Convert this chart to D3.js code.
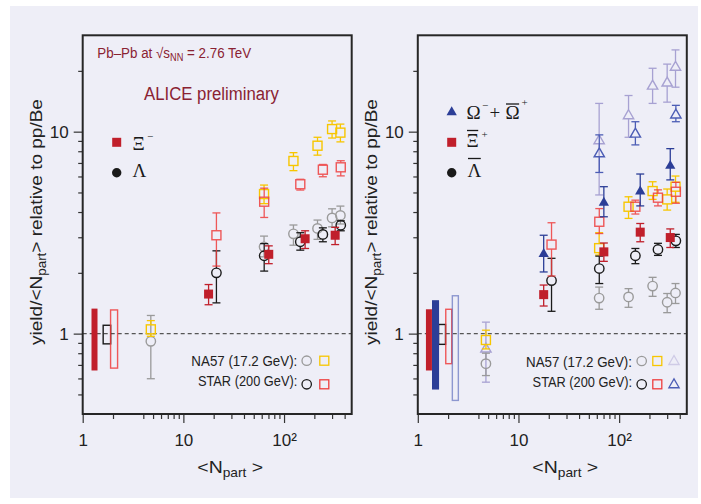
<!DOCTYPE html>
<html><head><meta charset="utf-8">
<script src="https://cdn.jsdelivr.net/npm/d3@7"></script>
<style>
body{margin:0;background:#fff}
text{font-family:"Liberation Sans",Arial,sans-serif}
text.serif{font-family:"Liberation Serif","Times New Roman",serif}
</style>
</head><body>
<svg id="c" width="701" height="504"></svg>
<script>
// ---------------- DATA ----------------
const xTickValues = [1, 10, 100];
const xTickLabels = ["1", "10", "10\u00b2"];
const xMinorTicks = [2, 4, 5, 6, 7, 8, 9, 20, 30, 40, 50, 60, 70, 80, 90, 200, 300, 400];
const yTickValues = [1, 10];
const yTickLabels = ["1", "10"];
const yMinorTicks = [0.5, 0.6, 0.7, 0.8, 0.9, 2, 3, 4, 5, 6, 7, 8, 9, 20];

const aliceNpart = [17.8, 70.5, 162, 322];
const starNpart = [21.3, 63.5, 145, 243, 366];
const starOmegaNpart = [63.5, 145, 366];
const na57Npart = [4.75, 63.3, 124, 215, 300, 363];

// left panel
const aliceXiMinus   = [1.57, 2.47, 2.95, 3.07];
const aliceXiMinusHi = [1.75, 2.72, 3.23, 3.36];
const aliceXiMinusLo = [1.39, 2.22, 2.64, 2.76];
const starXi   = [3.07, 4.50, 5.49, 6.48, 6.66];
const starXiHi = [3.96, 5.25, 5.81, 6.88, 7.18];
const starXiLo = [2.16, 3.76, 5.14, 5.98, 6.04];
const starLambda   = [2.00, 2.43, 2.85, 3.10, 3.44];
const starLambdaHi = [2.57, 2.79, 3.16, 3.34, 3.62];
const starLambdaLo = [1.42, 2.04, 2.59, 2.85, 3.23];
const na57Xi   = [1.05, 4.91, 7.16, 8.52, 10.3, 9.89];
const na57XiHi = [1.16, 5.44, 7.87, 9.38, 11.3, 10.9];
const na57XiLo = [0.97, 4.40, 6.41, 7.65, 9.30, 8.90];
const na57Lambda   = [0.916, 2.69, 3.12, 3.32, 3.74, 3.85];
const na57LambdaHi = [1.23, 3.04, 3.45, 3.65, 4.15, 4.28];
const na57LambdaLo = [0.598, 2.40, 2.74, 2.93, 3.38, 3.49];

// right panel
const aliceOmega   = [2.52, 4.52, 5.14, 6.89];
const aliceOmegaHi = [3.07, 5.34, 6.17, 8.24];
const aliceOmegaLo = [2.02, 3.79, 4.29, 5.77];
const aliceXiBar   = [1.56, 2.54, 3.18, 2.99];
const aliceXiBarHi = [1.74, 2.81, 3.51, 3.30];
const aliceXiBarLo = [1.37, 2.28, 2.85, 2.67];
const starLambdaBar   = [1.83, 2.10, 2.43, 2.61, 2.88];
const starLambdaBarHi = [2.36, 2.42, 2.64, 2.80, 3.10];
const starLambdaBarLo = [1.29, 1.77, 2.22, 2.44, 2.67];
const starXiBar   = [2.76, 3.58, 4.25, 4.71, 5.04];
const starXiBarHi = [3.54, 4.16, 4.58, 5.15, 5.61];
const starXiBarLo = [1.93, 3.13, 3.91, 4.29, 4.42];
const starOmega   = [7.9, 9.89, 12.3];
const starOmegaHi = [9.64, 11.2, 13.5];
const starOmegaLo = [6.28, 8.6, 11.2];
const na57LambdaBar   = [0.71, 1.50, 1.52, 1.72, 1.43, 1.59];
const na57LambdaBarHi = [0.80, 1.70, 1.67, 1.90, 1.58, 1.77];
const na57LambdaBarLo = [0.62, 1.32, 1.35, 1.53, 1.27, 1.41];
const na57XiBar   = [0.93, 2.65, 4.25, 5.08, 4.62, 5.34];
const na57XiBarHi = [1.04, 3.16, 4.76, 5.65, 5.20, 6.03];
const na57XiBarLo = [0.84, 2.45, 3.72, 4.62, 4.09, 4.47];
const na57Omega   = [0.853, 9.17, 12.2, 17.1, 17.7, 21.2];
const na57OmegaHi = [1.14, 13.8, 15.1, 20.6, 21.6, 25.4];
const na57OmegaLo = [0.575, 4.86, 9.38, 13.8, 14.0, 16.6];

// normalisation uncertainty boxes (placed at small Npart)
const normLeftX  = [1.31, 1.74, 2.05];
const normLeftHi = [1.33, 1.10, 1.31];
const normLeftLo = [0.657, 0.89, 0.675];
const normRightX  = [1.29, 1.50, 1.74, 2.03, 2.36];
const normRightHi = [1.32, 1.46, 1.11, 1.32, 1.54];
const normRightLo = [0.657, 0.53, 0.885, 0.71, 0.467];

// ---------------- STYLE ----------------
const C = {
  aliceRed: "#c01f2b", aliceBlue: "#2c3e97", starRed: "#ee3d3d", starBlue: "#4c5db5",
  na57Yellow: "#f7c600", na57Grey: "#9a9a9a", na57Purple: "#a7a1d2", black: "#1a1a1a",
  title: "#8a2232", bg: "#eeeef7"
};

const svg = d3.select("#c");
svg.append("rect").attr("x", 10).attr("y", 6).attr("width", 688).attr("height", 492).attr("fill", C.bg);

const yScale = d3.scaleLog().domain([0.4, 30]).range([414, 35.3]);
const panels = [{x0: 82.7, x1: 351.7}, {x0: 417.8, x1: 686.8}];
panels.forEach(p => { p.x = d3.scaleLog().domain([1, 470]).range([p.x0, p.x1]); });

// ---------------- helpers ----------------
function fitGroup(parent, x, y, target, build, rotate) {
  const g = parent.append("g");
  const t = build(g);
  const w = t.node().getComputedTextLength();
  const k = target / w;
  g.attr("transform", `translate(${x},${y})` + (rotate ? ` rotate(${rotate})` : "") + ` scale(${k},1)`);
  return g;
}

function marker(g, shape, cx, cy, color, open, opacity) {
  let m;
  if (shape === "square") {
    m = g.append("rect").attr("x", cx - 4.5).attr("y", cy - 4.5).attr("width", 9).attr("height", 9);
  } else if (shape === "circle") {
    m = g.append("circle").attr("cx", cx).attr("cy", cy).attr("r", 4.7);
  } else {
    m = g.append("path").attr("d", d3.symbol().type(d3.symbolTriangle).size(46)())
      .attr("transform", `translate(${cx},${cy + 1.5})`);
  }
  if (open) m.attr("fill", "none").attr("stroke", color).attr("stroke-width", 1.4);
  else m.attr("fill", color);
  if (opacity) m.attr("opacity", opacity);
  return m;
}
const halfTop = {square: 4.5, circle: 4.7, triangle: 4.5};
const halfBot = {square: 4.5, circle: 4.7, triangle: 4.5};

function drawSeries(p, s) {
  const g = svg.append("g").attr("opacity", s.opacity || 1);
  s.x.forEach((xv, i) => {
    const cx = p.x(xv), cy = yScale(s.y[i]);
    const yh = yScale(s.hi[i]), yl = yScale(s.lo[i]);
    const ln = (a, b, c2, d) => g.append("line").attr("x1", a).attr("y1", b).attr("x2", c2).attr("y2", d)
      .attr("stroke", s.color).attr("stroke-width", 1.3);
    if (s.open) {
      if (yh < cy - halfTop[s.shape]) ln(cx, yh, cx, cy - halfTop[s.shape]);
      if (yl > cy + halfBot[s.shape]) ln(cx, cy + halfBot[s.shape], cx, yl);
    } else ln(cx, yh, cx, yl);
    ln(cx - 4, yh, cx + 4, yh);
    ln(cx - 4, yl, cx + 4, yl);
    marker(g, s.shape, cx, cy, s.color, s.open);
  });
}

function drawNorm(p, xs, his, los, styles) {
  xs.forEach((xv, i) => {
    const st = styles[i];
    const cx = p.x(xv), w = st.w;
    const r = svg.append("rect").attr("x", cx - w / 2).attr("y", yScale(his[i]))
      .attr("width", w).attr("height", yScale(los[i]) - yScale(his[i]));
    if (st.fill) r.attr("fill", st.color);
    else r.attr("fill", "none").attr("stroke", st.color).attr("stroke-width", 1.4).attr("opacity", st.op || 1);
  });
}

// ---------------- panels ----------------
panels.forEach((p, pi) => {
  const xa = svg.append("g").attr("transform", "translate(0,414)")
    .call(d3.axisBottom(p.x).tickValues(xTickValues).tickSize(9).tickPadding(11)
      .tickFormat((d, i) => xTickLabels[i]));
  const xm = svg.append("g").attr("transform", "translate(0,414)")
    .call(d3.axisBottom(p.x).tickValues(xMinorTicks).tickSize(5).tickFormat(""));
  const ya = svg.append("g").attr("transform", `translate(${p.x0},0)`)
    .call(d3.axisLeft(yScale).tickValues(yTickValues).tickSize(9).tickPadding(5)
      .tickFormat((d, i) => yTickLabels[i]));
  const ym = svg.append("g").attr("transform", `translate(${p.x0},0)`)
    .call(d3.axisLeft(yScale).tickValues(yMinorTicks).tickSize(4.5).tickFormat(""));
  [xa, xm, ya, ym].forEach(a => {
    a.select(".domain").remove();
    a.selectAll("line").attr("stroke", "#333").attr("stroke-width", 1.2);
    a.selectAll("text").attr("fill", "#222").attr("font-size", 17);
  });

  svg.append("line").attr("x1", p.x0).attr("x2", p.x1).attr("y1", yScale(1)).attr("y2", yScale(1))
    .attr("stroke", "#555").attr("stroke-width", 1.2).attr("stroke-dasharray", "4,3");

  fitGroup(svg, (p.x0 + p.x1) / 2 + 13, 473, 66, g => {
    const t = g.append("text").attr("text-anchor", "middle").attr("font-size", 17).attr("fill", "#222");
    t.append("tspan").text("<N");
    t.append("tspan").attr("font-size", 12).attr("dy", 4).text("part");
    t.append("tspan").attr("dy", -4).text(" >");
    return t;
  });
  fitGroup(svg, p.x0 - 41, 222, 246, g => {
    const t = g.append("text").attr("text-anchor", "middle").attr("font-size", 17).attr("fill", "#222");
    t.append("tspan").text("yield/<N");
    t.append("tspan").attr("font-size", 12).attr("dy", 4).text("part");
    t.append("tspan").attr("dy", -4).text("> relative to pp/Be");
    return t;
  }, -90);
});

const L = panels[0], R = panels[1];

drawNorm(L, normLeftX, normLeftHi, normLeftLo, [
  {fill: true, color: C.aliceRed, w: 6}, {fill: false, color: C.black, w: 7.5}, {fill: false, color: C.starRed, w: 7, op: 0.85}]);
drawNorm(R, normRightX, normRightHi, normRightLo, [
  {fill: true, color: C.aliceRed, w: 6}, {fill: true, color: C.aliceBlue, w: 7}, {fill: false, color: C.black, w: 7},
  {fill: false, color: C.starRed, w: 6, op: 0.85}, {fill: false, color: C.starBlue, w: 6, op: 0.6}]);
drawNorm(R, [normRightX[1]], [normRightHi[1]], [normRightLo[1]], [{fill: true, color: C.aliceBlue, w: 7}]);

const leftSeries = [
  {x: na57Npart, y: na57Lambda, hi: na57LambdaHi, lo: na57LambdaLo, shape: "circle", open: true, color: C.na57Grey},
  {x: na57Npart, y: na57Xi, hi: na57XiHi, lo: na57XiLo, shape: "square", open: true, color: C.na57Yellow},
  {x: starNpart, y: starLambda, hi: starLambdaHi, lo: starLambdaLo, shape: "circle", open: true, color: C.black},
  {x: starNpart, y: starXi, hi: starXiHi, lo: starXiLo, shape: "square", open: true, color: C.starRed, opacity: 0.85},
  {x: aliceNpart, y: aliceXiMinus, hi: aliceXiMinusHi, lo: aliceXiMinusLo, shape: "square", open: false, color: C.aliceRed}
];
const rightSeries = [
  {x: na57Npart, y: na57Omega, hi: na57OmegaHi, lo: na57OmegaLo, shape: "triangle", open: true, color: C.na57Purple},
  {x: na57Npart, y: na57LambdaBar, hi: na57LambdaBarHi, lo: na57LambdaBarLo, shape: "circle", open: true, color: C.na57Grey},
  {x: na57Npart, y: na57XiBar, hi: na57XiBarHi, lo: na57XiBarLo, shape: "square", open: true, color: C.na57Yellow},
  {x: starOmegaNpart, y: starOmega, hi: starOmegaHi, lo: starOmegaLo, shape: "triangle", open: true, color: C.starBlue},
  {x: starNpart, y: starLambdaBar, hi: starLambdaBarHi, lo: starLambdaBarLo, shape: "circle", open: true, color: C.black},
  {x: starNpart, y: starXiBar, hi: starXiBarHi, lo: starXiBarLo, shape: "square", open: true, color: C.starRed, opacity: 0.85},
  {x: aliceNpart, y: aliceOmega, hi: aliceOmegaHi, lo: aliceOmegaLo, shape: "triangle", open: false, color: C.aliceBlue},
  {x: aliceNpart, y: aliceXiBar, hi: aliceXiBarHi, lo: aliceXiBarLo, shape: "square", open: false, color: C.aliceRed}
];
leftSeries.forEach(s => drawSeries(L, s));
rightSeries.forEach(s => drawSeries(R, s));

panels.forEach(p => {
  svg.append("rect").attr("x", p.x0).attr("y", 35.3).attr("width", p.x1 - p.x0).attr("height", 414 - 35.3)
    .attr("fill", "none").attr("stroke", "#262626").attr("stroke-width", 2);
});

// ---------------- texts & legends ----------------
fitGroup(svg, 97.3, 58.3, 154, g => {
  const t = g.append("text").attr("font-size", 14.5).attr("fill", C.title);
  t.append("tspan").text("Pb\u2013Pb at \u221As");
  t.append("tspan").attr("font-size", 10).attr("dy", 3).text("NN");
  t.append("tspan").attr("dy", -3).text(" = 2.76 TeV");
  return t;
});
fitGroup(svg, 211.5, 100, 135, g =>
  g.append("text").attr("text-anchor", "middle").attr("font-size", 19).attr("fill", C.title).text("ALICE preliminary"));

function glyph(x, y, txt, size, over) {
  const t = svg.append("text").attr("class", "serif").attr("x", x).attr("y", y)
    .attr("font-size", size).attr("fill", "#1a1a1a").text(txt);
  if (over !== undefined) {
    const w = t.node().getComputedTextLength();
    svg.append("line").attr("x1", x + 0.5).attr("x2", x + w - 0.5).attr("y1", over).attr("y2", over)
      .attr("stroke", "#1a1a1a").attr("stroke-width", 1.3);
  }
  return t;
}

// left legend
marker(svg, "square", 116.7, 142.3, C.aliceRed, false);
glyph(132.5, 149.5, "\u039E", 19);
glyph(147, 140, "\u2212", 11);
marker(svg, "circle", 116.7, 172.7, C.black, false);
glyph(132.5, 176.7, "\u039B", 19);

// right legend
marker(svg, "triangle", 451.7, 110.7, C.aliceBlue, false);
glyph(466.5, 118.5, "\u03A9", 19);
glyph(482, 109, "\u2212", 11);
glyph(489.5, 118.5, "+", 19);
glyph(505.5, 118.5, "\u03A9", 19, 104);
glyph(521.5, 106, "+", 11);
marker(svg, "square", 451.7, 142.3, C.aliceRed, false);
glyph(466.5, 146.7, "\u039E", 19, 130.5);
glyph(481.5, 137.5, "+", 11);
marker(svg, "circle", 451.7, 172.7, C.black, false);
glyph(467.5, 176.7, "\u039B", 19, 158.5);

function bottomLegend(xr, yNa, ySt, syms) {
  fitGroup(svg, xr, yNa, 106, g => g.append("text").attr("text-anchor", "end").attr("font-size", 14.5).attr("fill", "#222").text("NA57 (17.2 GeV):"));
  fitGroup(svg, xr, ySt, 99.5, g => g.append("text").attr("text-anchor", "end").attr("font-size", 14.5).attr("fill", "#222").text("STAR (200 GeV):"));
  syms.forEach(s => {
    const m = marker(svg, s.shape, s.x, s.y, s.color, true);
    m.attr("stroke-width", 1.3);
  });
}
bottomLegend(297.3, 366, 386, [
  {shape: "circle", x: 306.7, y: 360.7, color: C.na57Grey},
  {shape: "square", x: 324.3, y: 360.7, color: C.na57Yellow},
  {shape: "circle", x: 306.7, y: 384.3, color: C.black},
  {shape: "square", x: 324.3, y: 384.3, color: C.starRed}
]);
bottomLegend(632, 366.7, 387.3, [
  {shape: "circle", x: 641.7, y: 361, color: C.na57Grey},
  {shape: "square", x: 657.3, y: 361, color: C.na57Yellow},
  {shape: "triangle", x: 674, y: 360, color: "#cfcbe6"},
  {shape: "circle", x: 641.7, y: 384.3, color: C.black},
  {shape: "square", x: 657.3, y: 384.3, color: C.starRed},
  {shape: "triangle", x: 674, y: 383.3, color: C.starBlue}
]);
</script>
</body></html>
